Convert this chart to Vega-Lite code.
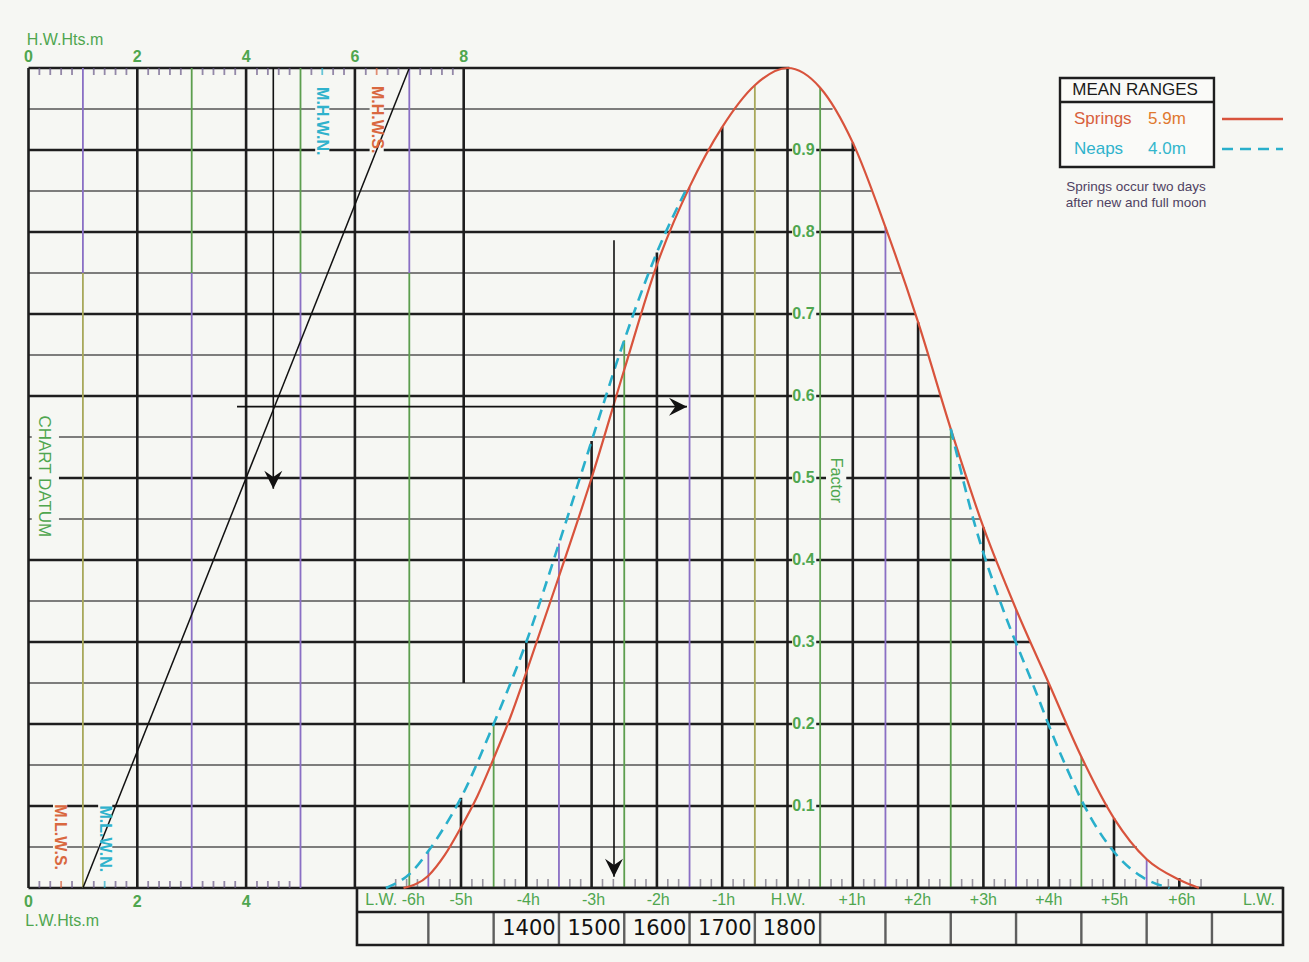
{
"$schema": "https://vega.github.io/schema/vega-lite/v6.json",
"width": 1309, "height": 962,
"autosize": {"type": "none"},
"padding": 0,
"background": "#f6f7f3",
"config": {"view": {"stroke": null}, "text": {"font": "Liberation Sans"}},
"resolve": {"scale": {"x": "independent", "color": "independent", "strokeDash": "independent"}},
"datasets": {
 "springs": [{"h":-5.88,"f":0},{"h":-5.5,"f":0.015},{"h":-5.25,"f":0.04},{"h":-5,"f":0.074},{"h":-4.75,"f":0.112},{"h":-4.5,"f":0.158},{"h":-4.25,"f":0.207},{"h":-4,"f":0.263},{"h":-3.5,"f":0.38},{"h":-3,"f":0.5},{"h":-2.5,"f":0.632},{"h":-2,"f":0.76},{"h":-1.5,"f":0.855},{"h":-1,"f":0.928},{"h":-0.5,"f":0.979},{"h":0,"f":1.0},{"h":0.5,"f":0.976},{"h":1,"f":0.909},{"h":1.5,"f":0.806},{"h":2,"f":0.69},{"h":2.5,"f":0.56},{"h":3,"f":0.44},{"h":3.5,"f":0.34},{"h":4,"f":0.25},{"h":4.5,"f":0.16},{"h":5,"f":0.085},{"h":5.5,"f":0.035},{"h":6,"f":0.01},{"h":6.3,"f":0}],
 "neaps": [{"h":-6.15,"f":0,"seg":"a"},{"h":-5.75,"f":0.02,"seg":"a"},{"h":-5.5,"f":0.045,"seg":"a"},{"h":-5.25,"f":0.075,"seg":"a"},{"h":-5,"f":0.11,"seg":"a"},{"h":-4.5,"f":0.2,"seg":"a"},{"h":-4,"f":0.3,"seg":"a"},{"h":-3.5,"f":0.42,"seg":"a"},{"h":-3,"f":0.545,"seg":"a"},{"h":-2.5,"f":0.668,"seg":"a"},{"h":-2,"f":0.775,"seg":"a"},{"h":-1.55,"f":0.852,"seg":"a"},
   {"h":2.5,"f":0.56,"seg":"b"},{"h":2.88,"f":0.44,"seg":"b"},{"h":3.3,"f":0.34,"seg":"b"},{"h":3.75,"f":0.25,"seg":"b"},{"h":4.2,"f":0.16,"seg":"b"},{"h":4.65,"f":0.085,"seg":"b"},{"h":5.1,"f":0.035,"seg":"b"},{"h":5.4,"f":0.015,"seg":"b"},{"h":5.85,"f":0,"seg":"b"}],
 "hMajor": [{"f":1.0,"h0":-11.623,"h1":0.03},{"f":0.9,"h0":-11.623,"h1":1.04},{"f":0.8,"h0":-11.623,"h1":1.53},{"f":0.7,"h0":-11.623,"h1":1.96},{"f":0.6,"h0":-11.623,"h1":2.35},{"f":0.5,"h0":-11.623,"h1":2.75},{"f":0.4,"h0":-11.623,"h1":3.2},{"f":0.3,"h0":-11.623,"h1":3.72},{"f":0.2,"h0":-11.623,"h1":4.27},{"f":0.1,"h0":-11.623,"h1":4.9},{"f":0,"h0":-11.623,"h1":7.588}],
 "hMinor": [{"f":0.95,"h0":-11.623,"h1":0.69},{"f":0.85,"h0":-11.623,"h1":1.29},{"f":0.75,"h0":-11.623,"h1":1.74},{"f":0.65,"h0":-11.623,"h1":2.15},{"f":0.55,"h0":-11.623,"h1":2.54},{"f":0.45,"h0":-11.623,"h1":2.96},{"f":0.35,"h0":-11.623,"h1":3.45},{"f":0.25,"h0":-11.623,"h1":4.0},{"f":0.15,"h0":-11.623,"h1":4.57},{"f":0.05,"h0":-11.623,"h1":5.35}],
 "mBlack": [{"m":0,"f0":0,"f1":1},{"m":2,"f0":0,"f1":1},{"m":4,"f0":0,"f1":1},{"m":6,"f0":0,"f1":1},{"m":8,"f0":0.25,"f1":1}],
 "mColor": [{"m":1,"f0":0.75,"f1":1,"tone":"p"},{"m":1,"f0":0,"f1":0.75,"tone":"o"},{"m":3,"f0":0.75,"f1":1,"tone":"g"},{"m":3,"f0":0,"f1":0.75,"tone":"p"},{"m":5,"f0":0.75,"f1":1,"tone":"g"},{"m":5,"f0":0,"f1":0.75,"tone":"p"},{"m":7,"f0":0.75,"f1":1,"tone":"p"},{"m":7,"f0":0,"f1":0.75,"tone":"g"}],
 "hBlack": [{"h":-5,"b":0,"top":0.11},{"h":-4,"b":0,"top":0.3},{"h":-3,"b":0,"top":0.545},{"h":-2,"b":0,"top":0.775},{"h":-1,"b":0,"top":0.928},{"h":0,"b":0,"top":1.0},{"h":1,"b":0,"top":0.909},{"h":2,"b":0,"top":0.69},{"h":3,"b":0,"top":0.44},{"h":4,"b":0,"top":0.25},{"h":5,"b":0,"top":0.085},{"h":6,"b":0,"top":0.012}],
 "hHalf": [{"h":-5.5,"b":0,"top":0.045,"tone":"p"},{"h":-4.5,"b":0,"top":0.2,"tone":"g"},{"h":-3.5,"b":0,"top":0.42,"tone":"p"},{"h":-2.5,"b":0,"top":0.668,"tone":"g"},{"h":-1.5,"b":0,"top":0.855,"tone":"p"},{"h":-0.5,"b":0,"top":0.979,"tone":"o"},{"h":0.5,"b":0,"top":0.976,"tone":"g"},{"h":1.5,"b":0,"top":0.806,"tone":"p"},{"h":2.5,"b":0,"top":0.56,"tone":"g"},{"h":3.5,"b":0,"top":0.34,"tone":"p"},{"h":4.5,"b":0,"top":0.16,"tone":"g"},{"h":5.5,"b":0,"top":0.035,"tone":"p"}],
 "topTicks": [{"m":0.2,"k":"t"},{"m":0.4,"k":"t"},{"m":0.6,"k":"t"},{"m":0.8,"k":"t"},{"m":1.2,"k":"t"},{"m":1.4,"k":"t"},{"m":1.6,"k":"t"},{"m":1.8,"k":"t"},{"m":2.2,"k":"t"},{"m":2.4,"k":"t"},{"m":2.6,"k":"t"},{"m":2.8,"k":"t"},{"m":3.2,"k":"t"},{"m":3.4,"k":"t"},{"m":3.6,"k":"t"},{"m":3.8,"k":"t"},{"m":4.2,"k":"t"},{"m":4.4,"k":"t"},{"m":4.6,"k":"t"},{"m":4.8,"k":"t"},{"m":5.2,"k":"t"},{"m":5.4,"k":"n"},{"m":5.6,"k":"t"},{"m":5.8,"k":"t"},{"m":6.2,"k":"t"},{"m":6.4,"k":"s"},{"m":6.6,"k":"t"},{"m":6.8,"k":"t"},{"m":7.2,"k":"t"},{"m":7.4,"k":"t"},{"m":7.6,"k":"t"},{"m":7.8,"k":"t"}],
 "botTicks": [{"m":0.2,"k":"t"},{"m":0.4,"k":"t"},{"m":0.6,"k":"s"},{"m":0.8,"k":"t"},{"m":1.2,"k":"t"},{"m":1.4,"k":"n"},{"m":1.6,"k":"t"},{"m":1.8,"k":"t"},{"m":2.2,"k":"t"},{"m":2.4,"k":"t"},{"m":2.6,"k":"t"},{"m":2.8,"k":"t"},{"m":3.2,"k":"t"},{"m":3.4,"k":"t"},{"m":3.6,"k":"t"},{"m":3.8,"k":"t"},{"m":4.2,"k":"t"},{"m":4.4,"k":"t"},{"m":4.6,"k":"t"},{"m":4.8,"k":"t"}],
 "tTicks": [{"h":-6},{"h":-5.833},{"h":-5.667},{"h":-5.333},{"h":-5.167},{"h":-4.833},{"h":-4.667},{"h":-4.333},{"h":-4.167},{"h":-3.833},{"h":-3.667},{"h":-3.333},{"h":-3.167},{"h":-2.833},{"h":-2.667},{"h":-2.333},{"h":-2.167},{"h":-1.833},{"h":-1.667},{"h":-1.333},{"h":-1.167},{"h":-0.833},{"h":-0.667},{"h":-0.333},{"h":-0.167},{"h":0.167},{"h":0.333},{"h":0.667},{"h":0.833},{"h":1.167},{"h":1.333},{"h":1.667},{"h":1.833},{"h":2.167},{"h":2.333},{"h":2.667},{"h":2.833},{"h":3.167},{"h":3.333},{"h":3.667},{"h":3.833},{"h":4.167},{"h":4.333},{"h":4.667},{"h":4.833},{"h":5.167},{"h":5.333},{"h":5.667},{"h":5.833},{"h":6.167},{"h":6.333}],
 "box": [{"h0":-6.593,"h1":7.588,"f0":0,"f1":-0.0695,"fm":-0.0293}],
 "boxCols": [{"h":-5.5},{"h":-4.5},{"h":-3.5},{"h":-2.5},{"h":-1.5},{"h":-0.5},{"h":0.5},{"h":1.5},{"h":2.5},{"h":3.5},{"h":4.5},{"h":5.5},{"h":6.5}],
 "mMasks": [{"m0":0.06,"m1":0.56,"f0":0.422,"f1":0.583},{"m0":5.27,"m1":5.53,"f0":0.884,"f1":0.99},{"m0":6.27,"m1":6.53,"f0":0.884,"f1":0.99},{"m0":0.45,"m1":0.71,"f0":0.012,"f1":0.11},{"m0":1.28,"m1":1.54,"f0":0.01,"f1":0.112}],
 "hMasks": [{"h0":0.07,"h1":0.44,"f0":0.089,"f1":0.111},{"h0":0.07,"h1":0.44,"f0":0.189,"f1":0.211},{"h0":0.07,"h1":0.44,"f0":0.289,"f1":0.311},{"h0":0.07,"h1":0.44,"f0":0.389,"f1":0.411},{"h0":0.07,"h1":0.44,"f0":0.489,"f1":0.511},{"h0":0.07,"h1":0.44,"f0":0.589,"f1":0.611},{"h0":0.07,"h1":0.44,"f0":0.689,"f1":0.711},{"h0":0.07,"h1":0.44,"f0":0.789,"f1":0.811},{"h0":0.07,"h1":0.44,"f0":0.889,"f1":0.911},{"h0":0.59,"h1":0.9,"f0":0.456,"f1":0.54}],
 "diag": [{"m":1.0,"f":0},{"m":7.0,"f":1.0}],
 "arrowM": [{"m":4.5,"f0":1.0,"f1":0.487}],
 "arrowHH": [{"h0":-8.43,"h1":-1.539,"f":0.587}],
 "arrowHV": [{"h":-2.657,"f0":0.79,"f1":0.0138}],
 "mNums": [{"m":0,"f":1.0134,"t":"0"},{"m":2,"f":1.0134,"t":"2"},{"m":4,"f":1.0134,"t":"4"},{"m":6,"f":1.0134,"t":"6"},{"m":8,"f":1.0134,"t":"8"},{"m":0,"f":-0.0171,"t":"0"},{"m":2,"f":-0.0171,"t":"2"},{"m":4,"f":-0.0171,"t":"4"}],
 "mTitles": [{"m":-0.03,"f":1.034,"t":"H.W.Hts.m"},{"m":-0.06,"f":-0.0402,"t":"L.W.Hts.m"}],
 "mVert": [{"m":5.4,"f":0.935,"t":"M.H.W.N.","k":"n"},{"m":6.4,"f":0.937,"t":"M.H.W.S.","k":"s"},{"m":0.58,"f":0.062,"t":"M.L.W.S.","k":"s"},{"m":1.41,"f":0.06,"t":"M.L.W.N.","k":"n"}],
 "chartDatum": [{"m":0.285,"f":0.502,"t":"CHART DATUM"}],
 "tLabels": [{"h":-6.01,"f":-0.0146,"t":"L.W. -6h"},{"h":-5,"f":-0.0146,"t":"-5h"},{"h":-3.97,"f":-0.0146,"t":"-4h"},{"h":-2.97,"f":-0.0146,"t":"-3h"},{"h":-1.98,"f":-0.0146,"t":"-2h"},{"h":-0.98,"f":-0.0146,"t":"-1h"},{"h":0.01,"f":-0.0146,"t":"H.W."},{"h":0.99,"f":-0.0146,"t":"+1h"},{"h":1.99,"f":-0.0146,"t":"+2h"},{"h":3.0,"f":-0.0146,"t":"+3h"},{"h":4.0,"f":-0.0146,"t":"+4h"},{"h":5.01,"f":-0.0146,"t":"+5h"},{"h":6.04,"f":-0.0146,"t":"+6h"},{"h":7.22,"f":-0.0146,"t":"L.W."}],
 "cells": [{"h":-3.96,"f":-0.0495,"t":"1400"},{"h":-2.96,"f":-0.0495,"t":"1500"},{"h":-1.96,"f":-0.0495,"t":"1600"},{"h":-0.96,"f":-0.0495,"t":"1700"},{"h":0.03,"f":-0.0495,"t":"1800"}],
 "fLabels": [{"h":0.245,"f":0.1,"t":"0.1"},{"h":0.245,"f":0.2,"t":"0.2"},{"h":0.245,"f":0.3,"t":"0.3"},{"h":0.245,"f":0.4,"t":"0.4"},{"h":0.245,"f":0.5,"t":"0.5"},{"h":0.245,"f":0.6,"t":"0.6"},{"h":0.245,"f":0.7,"t":"0.7"},{"h":0.245,"f":0.8,"t":"0.8"},{"h":0.245,"f":0.9,"t":"0.9"}],
 "factorTitle": [{"h":0.74,"f":0.497,"t":"Factor"}],
 "legendBox": [{"h0":4.173,"h1":6.531,"f0":0.8793,"f1":0.9878,"fm":0.9585}],
 "legendLines": [{"h0":6.654,"h1":7.588,"f":0.9378,"k":"s"},{"h0":6.654,"h1":7.588,"f":0.9012,"k":"n"}],
 "legTitle": [{"h":5.322,"f":0.9732,"t":"MEAN RANGES"}],
 "legNotes": [{"h":5.337,"f":0.8549,"t":"Springs occur two days"},{"h":5.337,"f":0.8354,"t":"after new and full moon"}],
 "legEntries": [{"h":4.387,"f":0.9378,"t":"Springs","k":"s"},{"h":5.521,"f":0.9378,"t":"5.9m","k":"sv"},{"h":4.387,"f":0.9012,"t":"Neaps","k":"n"},{"h":5.521,"f":0.9012,"t":"4.0m","k":"nv"}]
},
"layer": [
 {"data":{"name":"hMinor"},"mark":{"type":"rule","color":"#555555","strokeWidth":1.6},
  "encoding":{"x":{"field":"h0","type":"quantitative","scale":{"domain":[-12.0597,7.9862],"nice":false,"zero":false},"axis":null},"x2":{"field":"h1"},"y":{"field":"f","type":"quantitative","scale":{"domain":[-0.09024,1.08293],"nice":false,"zero":false},"axis":null}}},
 {"data":{"name":"hMajor"},"mark":{"type":"rule","color":"#1e1e1e","strokeWidth":2.6},
  "encoding":{"x":{"field":"h0","type":"quantitative","scale":{"domain":[-12.0597,7.9862],"nice":false,"zero":false},"axis":null},"x2":{"field":"h1"},"y":{"field":"f","type":"quantitative","scale":{"domain":[-0.09024,1.08293],"nice":false,"zero":false},"axis":null}}},
 {"data":{"name":"mColor"},"mark":{"type":"rule","strokeWidth":1.8},
  "encoding":{"x":{"field":"m","type":"quantitative","scale":{"domain":[-0.5239,23.5386],"nice":false,"zero":false},"axis":null},"y":{"field":"f0","type":"quantitative","scale":{"domain":[-0.09024,1.08293],"nice":false,"zero":false},"axis":null},"y2":{"field":"f1"},
   "color":{"field":"tone","type":"nominal","scale":{"domain":["p","g","o"],"range":["#8a6fc4","#5c9e4e","#a8a85a"]},"legend":null}}},
 {"data":{"name":"mBlack"},"mark":{"type":"rule","color":"#1e1e1e","strokeWidth":2.6},
  "encoding":{"x":{"field":"m","type":"quantitative","scale":{"domain":[-0.5239,23.5386],"nice":false,"zero":false},"axis":null},"y":{"field":"f0","type":"quantitative","scale":{"domain":[-0.09024,1.08293],"nice":false,"zero":false},"axis":null},"y2":{"field":"f1"}}},
 {"data":{"name":"hHalf"},"mark":{"type":"rule","strokeWidth":1.8},
  "encoding":{"x":{"field":"h","type":"quantitative","scale":{"domain":[-12.0597,7.9862],"nice":false,"zero":false},"axis":null},"y":{"field":"b","type":"quantitative","scale":{"domain":[-0.09024,1.08293],"nice":false,"zero":false},"axis":null},"y2":{"field":"top"},
   "color":{"field":"tone","type":"nominal","scale":{"domain":["p","g","o"],"range":["#8a6fc4","#5c9e4e","#a8a85a"]},"legend":null}}},
 {"data":{"name":"hBlack"},"mark":{"type":"rule","color":"#1e1e1e","strokeWidth":2.6},
  "encoding":{"x":{"field":"h","type":"quantitative","scale":{"domain":[-12.0597,7.9862],"nice":false,"zero":false},"axis":null},"y":{"field":"b","type":"quantitative","scale":{"domain":[-0.09024,1.08293],"nice":false,"zero":false},"axis":null},"y2":{"field":"top"}}},
 {"data":{"name":"topTicks"},"mark":{"type":"tick","orient":"vertical","thickness":1.8,"size":7,"yOffset":3.5},
  "encoding":{"x":{"field":"m","type":"quantitative","scale":{"domain":[-0.5239,23.5386],"nice":false,"zero":false},"axis":null},"y":{"datum":1.0,"type":"quantitative","scale":{"domain":[-0.09024,1.08293],"nice":false,"zero":false},"axis":null},
   "color":{"field":"k","type":"nominal","scale":{"domain":["t","n","s"],"range":["#6a5888","#29afcb","#d8603c"]},"legend":null}}},
 {"data":{"name":"botTicks"},"mark":{"type":"tick","orient":"vertical","thickness":1.8,"size":7,"yOffset":-3.5},
  "encoding":{"x":{"field":"m","type":"quantitative","scale":{"domain":[-0.5239,23.5386],"nice":false,"zero":false},"axis":null},"y":{"datum":0,"type":"quantitative","scale":{"domain":[-0.09024,1.08293],"nice":false,"zero":false},"axis":null},
   "color":{"field":"k","type":"nominal","scale":{"domain":["t","n","s"],"range":["#6a5888","#29afcb","#d8603c"]},"legend":null}}},
 {"data":{"name":"tTicks"},"mark":{"type":"tick","orient":"vertical","thickness":1.6,"size":9,"yOffset":-4.5,"color":"#6f6a7a"},
  "encoding":{"x":{"field":"h","type":"quantitative","scale":{"domain":[-12.0597,7.9862],"nice":false,"zero":false},"axis":null},"y":{"datum":0,"type":"quantitative","scale":{"domain":[-0.09024,1.08293],"nice":false,"zero":false},"axis":null}}},
 {"data":{"name":"box"},"mark":{"type":"rect","fill":"#f6f7f3","stroke":"#1e1e1e","strokeWidth":2.6},
  "encoding":{"x":{"field":"h0","type":"quantitative","scale":{"domain":[-12.0597,7.9862],"nice":false,"zero":false},"axis":null},"x2":{"field":"h1"},"y":{"field":"f0","type":"quantitative","scale":{"domain":[-0.09024,1.08293],"nice":false,"zero":false},"axis":null},"y2":{"field":"f1"}}},
 {"data":{"name":"box"},"mark":{"type":"rule","color":"#1e1e1e","strokeWidth":2.6},
  "encoding":{"x":{"field":"h0","type":"quantitative","scale":{"domain":[-12.0597,7.9862],"nice":false,"zero":false},"axis":null},"x2":{"field":"h1"},"y":{"field":"fm","type":"quantitative","scale":{"domain":[-0.09024,1.08293],"nice":false,"zero":false},"axis":null}}},
 {"data":{"name":"boxCols"},"mark":{"type":"tick","orient":"vertical","thickness":2.4,"size":33,"color":"#1e1e1e"},
  "encoding":{"x":{"field":"h","type":"quantitative","scale":{"domain":[-12.0597,7.9862],"nice":false,"zero":false},"axis":null},"y":{"datum":-0.0494,"type":"quantitative","scale":{"domain":[-0.09024,1.08293],"nice":false,"zero":false},"axis":null}}},
 {"data":{"name":"mMasks"},"mark":{"type":"rect","fill":"#f6f7f3"},
  "encoding":{"x":{"field":"m0","type":"quantitative","scale":{"domain":[-0.5239,23.5386],"nice":false,"zero":false},"axis":null},"x2":{"field":"m1"},"y":{"field":"f0","type":"quantitative","scale":{"domain":[-0.09024,1.08293],"nice":false,"zero":false},"axis":null},"y2":{"field":"f1"}}},
 {"data":{"name":"hMasks"},"mark":{"type":"rect","fill":"#f6f7f3"},
  "encoding":{"x":{"field":"h0","type":"quantitative","scale":{"domain":[-12.0597,7.9862],"nice":false,"zero":false},"axis":null},"x2":{"field":"h1"},"y":{"field":"f0","type":"quantitative","scale":{"domain":[-0.09024,1.08293],"nice":false,"zero":false},"axis":null},"y2":{"field":"f1"}}},
 {"data":{"name":"springs"},"mark":{"type":"line","color":"#d8533c","strokeWidth":2.2,"interpolate":"monotone"},
  "encoding":{"x":{"field":"h","type":"quantitative","scale":{"domain":[-12.0597,7.9862],"nice":false,"zero":false},"axis":null},"y":{"field":"f","type":"quantitative","scale":{"domain":[-0.09024,1.08293],"nice":false,"zero":false},"axis":null}}},
 {"data":{"name":"neaps"},"mark":{"type":"line","color":"#29afcb","strokeWidth":2.6,"strokeDash":[11,7],"interpolate":"monotone"},
  "encoding":{"x":{"field":"h","type":"quantitative","scale":{"domain":[-12.0597,7.9862],"nice":false,"zero":false},"axis":null},"y":{"field":"f","type":"quantitative","scale":{"domain":[-0.09024,1.08293],"nice":false,"zero":false},"axis":null},"detail":{"field":"seg","type":"nominal"}}},
 {"data":{"name":"diag"},"mark":{"type":"line","color":"#111111","strokeWidth":1.5},
  "encoding":{"x":{"field":"m","type":"quantitative","scale":{"domain":[-0.5239,23.5386],"nice":false,"zero":false},"axis":null},"y":{"field":"f","type":"quantitative","scale":{"domain":[-0.09024,1.08293],"nice":false,"zero":false},"axis":null}}},
 {"data":{"name":"arrowM"},"mark":{"type":"rule","color":"#111111","strokeWidth":1.6},
  "encoding":{"x":{"field":"m","type":"quantitative","scale":{"domain":[-0.5239,23.5386],"nice":false,"zero":false},"axis":null},"y":{"field":"f0","type":"quantitative","scale":{"domain":[-0.09024,1.08293],"nice":false,"zero":false},"axis":null},"y2":{"field":"f1"}}},
 {"data":{"name":"arrowM"},"mark":{"type":"point","shape":"M-0.5,-1L0,0L0.5,-1L0,-0.65Z","filled":true,"color":"#111111","opacity":1,"size":1296},
  "encoding":{"x":{"field":"m","type":"quantitative","scale":{"domain":[-0.5239,23.5386],"nice":false,"zero":false},"axis":null},"y":{"field":"f1","type":"quantitative","scale":{"domain":[-0.09024,1.08293],"nice":false,"zero":false},"axis":null}}},
 {"data":{"name":"arrowHH"},"mark":{"type":"rule","color":"#111111","strokeWidth":1.6},
  "encoding":{"x":{"field":"h0","type":"quantitative","scale":{"domain":[-12.0597,7.9862],"nice":false,"zero":false},"axis":null},"x2":{"field":"h1"},"y":{"field":"f","type":"quantitative","scale":{"domain":[-0.09024,1.08293],"nice":false,"zero":false},"axis":null}}},
 {"data":{"name":"arrowHH"},"mark":{"type":"point","shape":"M-1,-0.5L0,0L-1,0.5L-0.65,0Z","filled":true,"color":"#111111","opacity":1,"size":1296},
  "encoding":{"x":{"field":"h1","type":"quantitative","scale":{"domain":[-12.0597,7.9862],"nice":false,"zero":false},"axis":null},"y":{"field":"f","type":"quantitative","scale":{"domain":[-0.09024,1.08293],"nice":false,"zero":false},"axis":null}}},
 {"data":{"name":"arrowHV"},"mark":{"type":"rule","color":"#111111","strokeWidth":1.6},
  "encoding":{"x":{"field":"h","type":"quantitative","scale":{"domain":[-12.0597,7.9862],"nice":false,"zero":false},"axis":null},"y":{"field":"f0","type":"quantitative","scale":{"domain":[-0.09024,1.08293],"nice":false,"zero":false},"axis":null},"y2":{"field":"f1"}}},
 {"data":{"name":"arrowHV"},"mark":{"type":"point","shape":"M-0.5,-1L0,0L0.5,-1L0,-0.65Z","filled":true,"color":"#111111","opacity":1,"size":1296},
  "encoding":{"x":{"field":"h","type":"quantitative","scale":{"domain":[-12.0597,7.9862],"nice":false,"zero":false},"axis":null},"y":{"field":"f1","type":"quantitative","scale":{"domain":[-0.09024,1.08293],"nice":false,"zero":false},"axis":null}}},
 {"data":{"name":"mNums"},"mark":{"type":"text","color":"#4fa64f","fontSize":16,"fontWeight":"bold","align":"center","baseline":"middle"},
  "encoding":{"x":{"field":"m","type":"quantitative","scale":{"domain":[-0.5239,23.5386],"nice":false,"zero":false},"axis":null},"y":{"field":"f","type":"quantitative","scale":{"domain":[-0.09024,1.08293],"nice":false,"zero":false},"axis":null},"text":{"field":"t"}}},
 {"data":{"name":"mTitles"},"mark":{"type":"text","color":"#4fa64f","fontSize":16,"align":"left","baseline":"middle"},
  "encoding":{"x":{"field":"m","type":"quantitative","scale":{"domain":[-0.5239,23.5386],"nice":false,"zero":false},"axis":null},"y":{"field":"f","type":"quantitative","scale":{"domain":[-0.09024,1.08293],"nice":false,"zero":false},"axis":null},"text":{"field":"t"}}},
 {"data":{"name":"mVert"},"mark":{"type":"text","fontSize":16,"fontWeight":"bold","angle":90,"align":"center","baseline":"middle"},
  "encoding":{"x":{"field":"m","type":"quantitative","scale":{"domain":[-0.5239,23.5386],"nice":false,"zero":false},"axis":null},"y":{"field":"f","type":"quantitative","scale":{"domain":[-0.09024,1.08293],"nice":false,"zero":false},"axis":null},"text":{"field":"t"},
   "color":{"field":"k","type":"nominal","scale":{"domain":["n","s"],"range":["#2fb2cc","#d9683f"]},"legend":null}}},
 {"data":{"name":"chartDatum"},"mark":{"type":"text","color":"#4fa64f","fontSize":17,"angle":90,"align":"center","baseline":"middle"},
  "encoding":{"x":{"field":"m","type":"quantitative","scale":{"domain":[-0.5239,23.5386],"nice":false,"zero":false},"axis":null},"y":{"field":"f","type":"quantitative","scale":{"domain":[-0.09024,1.08293],"nice":false,"zero":false},"axis":null},"text":{"field":"t"}}},
 {"data":{"name":"tLabels"},"mark":{"type":"text","color":"#4fa64f","fontSize":16,"align":"center","baseline":"middle"},
  "encoding":{"x":{"field":"h","type":"quantitative","scale":{"domain":[-12.0597,7.9862],"nice":false,"zero":false},"axis":null},"y":{"field":"f","type":"quantitative","scale":{"domain":[-0.09024,1.08293],"nice":false,"zero":false},"axis":null},"text":{"field":"t"}}},
 {"data":{"name":"cells"},"mark":{"type":"text","color":"#111111","font":"DejaVu Sans","fontSize":21,"align":"center","baseline":"middle"},
  "encoding":{"x":{"field":"h","type":"quantitative","scale":{"domain":[-12.0597,7.9862],"nice":false,"zero":false},"axis":null},"y":{"field":"f","type":"quantitative","scale":{"domain":[-0.09024,1.08293],"nice":false,"zero":false},"axis":null},"text":{"field":"t"}}},
 {"data":{"name":"fLabels"},"mark":{"type":"text","color":"#4fa64f","fontSize":16,"fontWeight":"bold","align":"center","baseline":"middle"},
  "encoding":{"x":{"field":"h","type":"quantitative","scale":{"domain":[-12.0597,7.9862],"nice":false,"zero":false},"axis":null},"y":{"field":"f","type":"quantitative","scale":{"domain":[-0.09024,1.08293],"nice":false,"zero":false},"axis":null},"text":{"field":"t"}}},
 {"data":{"name":"factorTitle"},"mark":{"type":"text","color":"#4fa64f","fontSize":16,"angle":90,"align":"center","baseline":"middle"},
  "encoding":{"x":{"field":"h","type":"quantitative","scale":{"domain":[-12.0597,7.9862],"nice":false,"zero":false},"axis":null},"y":{"field":"f","type":"quantitative","scale":{"domain":[-0.09024,1.08293],"nice":false,"zero":false},"axis":null},"text":{"field":"t"}}},
 {"data":{"name":"legendBox"},"mark":{"type":"rect","fill":"#fafaf8","stroke":"#1e1e1e","strokeWidth":2.4},
  "encoding":{"x":{"field":"h0","type":"quantitative","scale":{"domain":[-12.0597,7.9862],"nice":false,"zero":false},"axis":null},"x2":{"field":"h1"},"y":{"field":"f0","type":"quantitative","scale":{"domain":[-0.09024,1.08293],"nice":false,"zero":false},"axis":null},"y2":{"field":"f1"}}},
 {"data":{"name":"legendBox"},"mark":{"type":"rule","color":"#1e1e1e","strokeWidth":2.4},
  "encoding":{"x":{"field":"h0","type":"quantitative","scale":{"domain":[-12.0597,7.9862],"nice":false,"zero":false},"axis":null},"x2":{"field":"h1"},"y":{"field":"fm","type":"quantitative","scale":{"domain":[-0.09024,1.08293],"nice":false,"zero":false},"axis":null}}},
 {"data":{"name":"legendLines"},"mark":{"type":"rule","strokeWidth":2.4},
  "encoding":{"x":{"field":"h0","type":"quantitative","scale":{"domain":[-12.0597,7.9862],"nice":false,"zero":false},"axis":null},"x2":{"field":"h1"},"y":{"field":"f","type":"quantitative","scale":{"domain":[-0.09024,1.08293],"nice":false,"zero":false},"axis":null},
   "color":{"field":"k","type":"nominal","scale":{"domain":["s","n"],"range":["#d8533c","#29afcb"]},"legend":null},
   "strokeDash":{"field":"k","type":"nominal","scale":{"domain":["s","n"],"range":[[1,0],[11,7]]},"legend":null}}},
 {"data":{"name":"legTitle"},"mark":{"type":"text","color":"#1a1a1a","fontSize":17,"align":"center","baseline":"middle"},
  "encoding":{"x":{"field":"h","type":"quantitative","scale":{"domain":[-12.0597,7.9862],"nice":false,"zero":false},"axis":null},"y":{"field":"f","type":"quantitative","scale":{"domain":[-0.09024,1.08293],"nice":false,"zero":false},"axis":null},"text":{"field":"t"}}},
 {"data":{"name":"legNotes"},"mark":{"type":"text","color":"#4f4262","fontSize":13.5,"align":"center","baseline":"middle"},
  "encoding":{"x":{"field":"h","type":"quantitative","scale":{"domain":[-12.0597,7.9862],"nice":false,"zero":false},"axis":null},"y":{"field":"f","type":"quantitative","scale":{"domain":[-0.09024,1.08293],"nice":false,"zero":false},"axis":null},"text":{"field":"t"}}},
 {"data":{"name":"legEntries"},"mark":{"type":"text","fontSize":17,"align":"left","baseline":"middle"},
  "encoding":{"x":{"field":"h","type":"quantitative","scale":{"domain":[-12.0597,7.9862],"nice":false,"zero":false},"axis":null},"y":{"field":"f","type":"quantitative","scale":{"domain":[-0.09024,1.08293],"nice":false,"zero":false},"axis":null},"text":{"field":"t"},
   "color":{"field":"k","type":"nominal","scale":{"domain":["s","sv","n","nv"],"range":["#d8603c","#e0782e","#2fb2cc","#33b6cc"]},"legend":null}}}
]
}
